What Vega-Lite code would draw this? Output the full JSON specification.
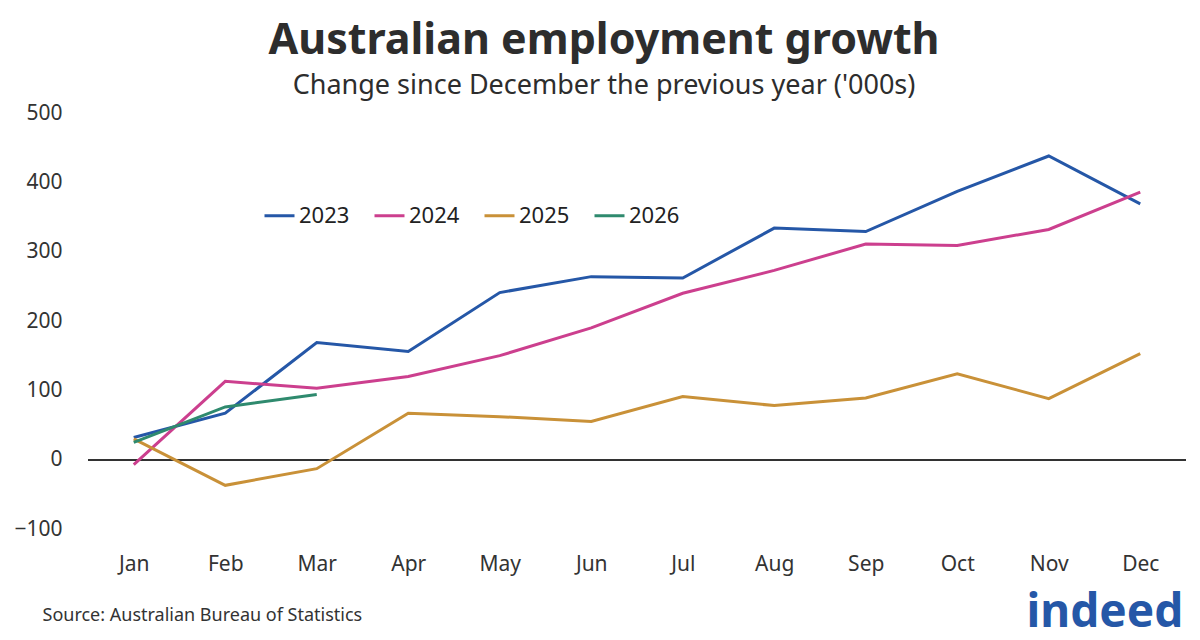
{
  "$schema": "https://vega.github.io/schema/vega-lite/v6.json",
  "width": 1098,
  "height": 416,
  "autosize": {"type": "none"},
  "padding": {"left": 88, "top": 113, "right": 14, "bottom": 111},
  "background": "white",
  "title": {
    "text": "Australian employment growth",
    "subtitle": "Change since December the previous year ('000s)",
    "anchor": "middle",
    "dx": -33,
    "offset": 3,
    "font": "Noto Sans",
    "fontSize": 43,
    "fontWeight": "bold",
    "color": "#2d2d2d",
    "subtitleFont": "Noto Sans",
    "subtitleFontSize": 27,
    "subtitleColor": "#2d2d2d",
    "subtitlePadding": 10
  },
  "config": {
    "view": {"stroke": null},
    "font": "Noto Sans"
  },
  "data": {
    "values": [
      {"year": "2023", "month": "Jan", "value": 32},
      {"year": "2023", "month": "Feb", "value": 67},
      {"year": "2023", "month": "Mar", "value": 169},
      {"year": "2023", "month": "Apr", "value": 156},
      {"year": "2023", "month": "May", "value": 241},
      {"year": "2023", "month": "Jun", "value": 264},
      {"year": "2023", "month": "Jul", "value": 262},
      {"year": "2023", "month": "Aug", "value": 334},
      {"year": "2023", "month": "Sep", "value": 329},
      {"year": "2023", "month": "Oct", "value": 387},
      {"year": "2023", "month": "Nov", "value": 438},
      {"year": "2023", "month": "Dec", "value": 369},
      {"year": "2024", "month": "Jan", "value": -7},
      {"year": "2024", "month": "Feb", "value": 113},
      {"year": "2024", "month": "Mar", "value": 103},
      {"year": "2024", "month": "Apr", "value": 120},
      {"year": "2024", "month": "May", "value": 150},
      {"year": "2024", "month": "Jun", "value": 190},
      {"year": "2024", "month": "Jul", "value": 240},
      {"year": "2024", "month": "Aug", "value": 273},
      {"year": "2024", "month": "Sep", "value": 311},
      {"year": "2024", "month": "Oct", "value": 309},
      {"year": "2024", "month": "Nov", "value": 332},
      {"year": "2024", "month": "Dec", "value": 386},
      {"year": "2025", "month": "Jan", "value": 30},
      {"year": "2025", "month": "Feb", "value": -37},
      {"year": "2025", "month": "Mar", "value": -13},
      {"year": "2025", "month": "Apr", "value": 67},
      {"year": "2025", "month": "May", "value": 62},
      {"year": "2025", "month": "Jun", "value": 55},
      {"year": "2025", "month": "Jul", "value": 91},
      {"year": "2025", "month": "Aug", "value": 78},
      {"year": "2025", "month": "Sep", "value": 89},
      {"year": "2025", "month": "Oct", "value": 124},
      {"year": "2025", "month": "Nov", "value": 88},
      {"year": "2025", "month": "Dec", "value": 153},
      {"year": "2026", "month": "Jan", "value": 25},
      {"year": "2026", "month": "Feb", "value": 76},
      {"year": "2026", "month": "Mar", "value": 94}
    ]
  },
  "layer": [
    {
      "mark": {"type": "rule", "color": "#333333", "strokeWidth": 1.5},
      "encoding": {"y": {"datum": 0, "type": "quantitative"}}
    },
    {
      "mark": {"type": "line", "strokeWidth": 3, "strokeJoin": "miter", "strokeCap": "butt"},
      "encoding": {
        "x": {
          "field": "month",
          "type": "ordinal",
          "sort": ["Jan", "Feb", "Mar", "Apr", "May", "Jun", "Jul", "Aug", "Sep", "Oct", "Nov", "Dec"],
          "scale": {"type": "point", "padding": 0.5},
          "axis": {
            "title": "Source: Australian Bureau of Statistics",
            "titleAnchor": "start",
            "titleAlign": "left",
            "titleBaseline": "alphabetic",
            "titleX": -46,
            "titleY": 91,
            "titleFont": "Noto Sans",
            "titleFontSize": 18,
            "titleFontWeight": "normal",
            "titleColor": "#333333",
            "labelFont": "Noto Sans",
            "labelFontSize": 21,
            "labelColor": "#333333",
            "labelPadding": 24,
            "labelAngle": 0,
            "ticks": false,
            "domain": false,
            "grid": false
          }
        },
        "y": {
          "field": "value",
          "type": "quantitative",
          "scale": {"domain": [-100, 500], "nice": false},
          "axis": {
            "title": null,
            "values": [-100, 0, 100, 200, 300, 400, 500],
            "labelFont": "Noto Sans",
            "labelFontSize": 21,
            "labelColor": "#333333",
            "labelPadding": 26,
            "ticks": false,
            "domain": false,
            "gridColor": "#d9d9d9",
            "gridWidth": 1.5
          }
        },
        "color": {
          "field": "year",
          "type": "nominal",
          "scale": {
            "domain": ["2023", "2024", "2025", "2026"],
            "range": ["#2557a7", "#cc3f8e", "#c99138", "#2f8a6e"]
          },
          "legend": {
            "title": null,
            "orient": "none",
            "legendX": 175,
            "legendY": 86,
            "direction": "horizontal",
            "symbolType": "stroke",
            "symbolStrokeWidth": 3,
            "symbolSize": 900,
            "labelFont": "Noto Sans",
            "labelFontSize": 22,
            "labelColor": "#222222",
            "labelOffset": 3,
            "columnPadding": 18
          }
        }
      }
    },
    {
      "data": {"values": [{"logo": "indeed"}]},
      "mark": {
        "type": "text",
        "align": "right",
        "baseline": "alphabetic",
        "dx": 43,
        "dy": 98,
        "font": "Noto Sans",
        "fontSize": 46,
        "fontWeight": "bold",
        "color": "#2557a7"
      },
      "encoding": {
        "x": {"datum": "Dec", "type": "ordinal"},
        "y": {"datum": -100, "type": "quantitative"},
        "text": {"field": "logo"}
      }
    }
  ]
}
